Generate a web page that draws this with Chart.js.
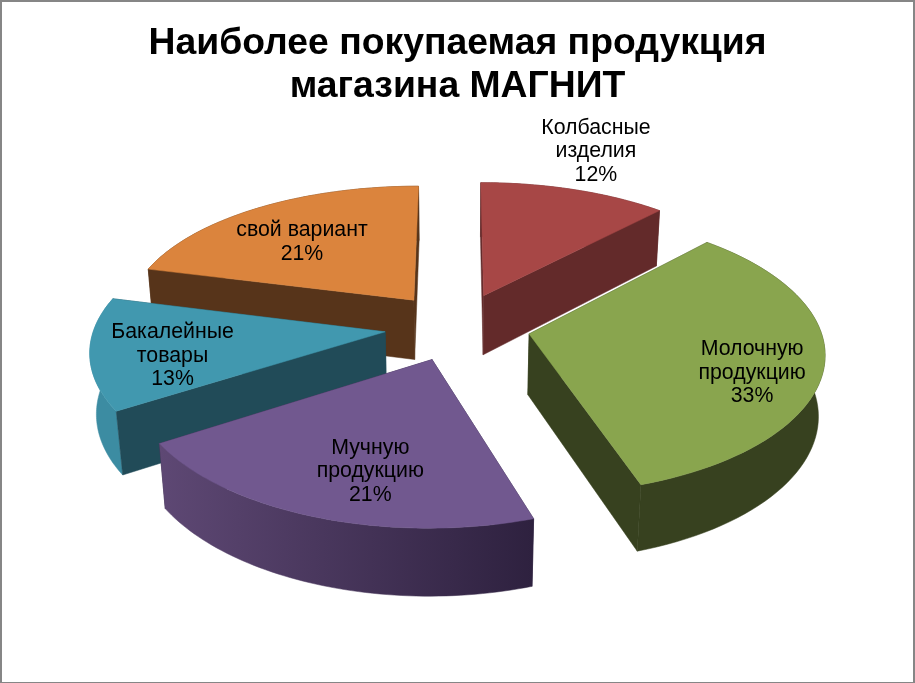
<!DOCTYPE html>
<html lang="ru">
<head>
<meta charset="utf-8">
<title>Наиболее покупаемая продукция</title>
<script src="https://cdn.jsdelivr.net/npm/chart.js@4"></script>
<style>
  html, body { margin: 0; padding: 0; background: #fff; }
  #frame { position: relative; width: 915px; height: 683px; box-sizing: border-box;
           border: solid #868686; border-width: 2px 2px 1px 2px; overflow: hidden; }
  #chart { position: absolute; left: -2px; top: -2px; }
</style>
</head>
<body>
<div id="frame"><canvas id="chart" width="915" height="683"></canvas></div>
<script>
const categories = [
  ["Колбасные", "изделия"],
  ["Молочную", "продукцию"],
  ["Мучную", "продукцию"],
  ["Бакалейные", "товары"],
  ["свой вариант"],
];
const shares = [12, 33, 21, 13, 21];
const titleLines = ["Наиболее покупаемая продукция", "магазина МАГНИТ"];

// camera of the tilted pie: px are the arc element's own px
const WIDEN = 0.985;
const TILT = 0.461;
const DEPTH = 61.5;
const PERSPECTIVE = 0.135 / 295;
const PERSPECTIVE_X = 0.122 / 295;
const SHRINK = 0.018;

const toScreen = (arc, pu, pv, z) => ({
  x: arc.x + (WIDEN * pu) / (1 + PERSPECTIVE_X * pv + SHRINK * z),
  y: arc.y + (-TILT * pv + DEPTH * z) / (1 + PERSPECTIVE * pv + SHRINK * z),
});

const pie3d = {
  id: "pie3d",
  beforeDatasetsDraw(chart, args, opts) {
    const ctx = chart.ctx;
    const arcs = chart.getDatasetMeta(0).data;

    const order = arcs.map((a, i) => i).sort((p, q) => {
      const mid = (a) => (a.startAngle + a.endAngle) / 2;
      return Math.sin(mid(arcs[p])) - Math.sin(mid(arcs[q]));
    });

    const trace = (pts) => {
      ctx.beginPath();
      pts.forEach((p, i) => (i ? ctx.lineTo(p.x, p.y) : ctx.moveTo(p.x, p.y)));
      ctx.closePath();
    };

    order.forEach((i) => {
      const arc = arcs[i];
      const mid = (arc.startAngle + arc.endAngle) / 2;
      const off = arc.options.offset;
      const r = arc.outerRadius;

      const project = (angle, radius, z) => {
        const pu = off * Math.cos(mid) + radius * Math.cos(angle);
        const pv = -(off * Math.sin(mid) + radius * Math.sin(angle));
        return toScreen(arc, pu, pv, z);
      };

      const rim = (z) => {
        const pts = [];
        for (let s = 0; s <= 60; s++) {
          pts.push(project(arc.startAngle + ((arc.endAngle - arc.startAngle) * s) / 60, r, z));
        }
        return pts;
      };

      const wall = (angle) => [
        project(angle, 0, 0),
        project(angle, r, 0),
        project(angle, r, 1),
        project(angle, 0, 1),
      ];

      const paint = (pts, fill) => {
        trace(pts);
        ctx.fillStyle = fill;
        ctx.strokeStyle = fill;
        ctx.lineWidth = 0.5;
        ctx.fill();
        ctx.stroke();
      };

      // canvas angles: a wall faces the viewer when its outer normal points down
      const walls = [
        { pts: wall(arc.startAngle), front: Math.cos(arc.startAngle) < 0.001 },
        { pts: wall(arc.endAngle), front: Math.cos(arc.endAngle) > -0.001 },
      ];

      walls.filter((w) => !w.front).forEach((w) => paint(w.pts, opts.wall[i]));

      const top = rim(0);
      const bottom = rim(1);
      const xs = top.concat(bottom).map((p) => p.x);
      const grad = ctx.createLinearGradient(Math.min(...xs), 0, Math.max(...xs), 0);
      grad.addColorStop(0, opts.rimFrom[i]);
      grad.addColorStop(1, opts.rimTo[i]);
      paint(top.concat(bottom.slice().reverse()), grad);

      walls.filter((w) => w.front).forEach((w) => paint(w.pts, opts.wall[i]));

      paint([project(mid, 0, 0)].concat(top), arc.options.backgroundColor);
    });

    // labels sit inside the same pass, the datasets hook stops here
    ctx.save();
    ctx.fillStyle = "#000";
    ctx.font = opts.font;
    ctx.textAlign = "center";
    ctx.textBaseline = "middle";
    arcs.forEach((arc, i) => {
      const mid = (arc.startAngle + arc.endAngle) / 2;
      const spot = opts.labels[i];
      const angle = mid + (spot.turn * Math.PI) / 180;
      const off = arc.options.offset;
      const pu = off * Math.cos(mid) + spot.r * arc.outerRadius * Math.cos(angle);
      const pv = -(off * Math.sin(mid) + spot.r * arc.outerRadius * Math.sin(angle));
      const at = toScreen(arc, pu, pv, 0);
      const lines = categories[i].concat(shares[i] + "%");
      lines.forEach((line, n) => {
        ctx.fillText(line, at.x, at.y + opts.labelDrop + (n - (lines.length - 1) / 2) * opts.lineGap);
      });
    });
    ctx.restore();

    return false;
  },
};

new Chart(document.getElementById("chart"), {
  type: "pie",
  data: {
    labels: categories.map((c) => c.join(" ")),
    datasets: [
      {
        data: shares,
        backgroundColor: ["#A74746", "#89A54E", "#71588F", "#4198AF", "#DB843D"],
        borderWidth: 0,
        offset: 74,
      },
    ],
  },
  options: {
    responsive: false,
    animation: false,
    radius: 295,
    layout: { padding: { bottom: 138 } },
    plugins: {
      legend: { display: false },
      tooltip: { enabled: false },
      title: {
        display: true,
        text: titleLines,
        color: "#000",
        font: { family: "'Liberation Sans', Arial, sans-serif", size: 37.33, weight: "bold", lineHeight: 1.15 },
        padding: { top: 22, bottom: 0 },
      },
      pie3d: {
        wall: ["#632A2A", "#37411F", "#2F2240", "#214B58", "#57341A"],
        rimFrom: ["#632A2A", "#37411F", "#5E4874", "#3C8CA2", "#57341A"],
        rimTo: ["#632A2A", "#37411F", "#2E213F", "#3C8CA2", "#57341A"],
        font: "21.3px 'Liberation Sans', Arial, sans-serif",
        lineGap: 23.5,
        labelDrop: 1.5,
        labels: [
          { r: 1.425, turn: -2.1 },
          { r: 0.775, turn: 7 },
          { r: 0.71, turn: -5 },
          { r: 0.727, turn: -3.8 },
          { r: 0.65, turn: -3.2 },
        ],
      },
    },
  },
  plugins: [pie3d],
});
</script>
</body>
</html>
